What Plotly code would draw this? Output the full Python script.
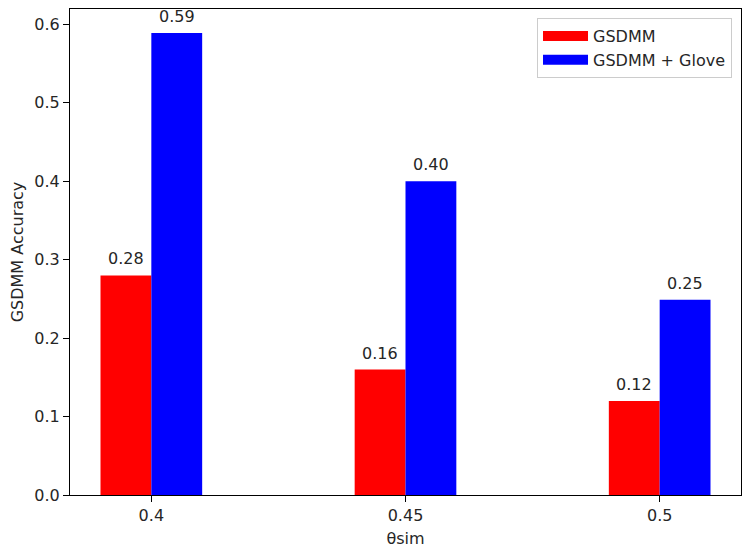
import plotly.graph_objects as go

categories = ["0.4", "0.45", "0.5"]
gsdmm = [0.28, 0.16, 0.12]
gsdmm_glove = [0.589, 0.40, 0.249]
series_names = ["GSDMM", "GSDMM + Glove"]
colors = ["red", "blue"]

x = list(range(len(categories)))
font = dict(family="DejaVu Sans", size=16, color="#262626")

fig = go.Figure()
for vals, name, col, off in [(gsdmm, series_names[0], colors[0], -0.2),
                             (gsdmm_glove, series_names[1], colors[1], 0.0)]:
    fig.add_trace(go.Bar(x=x, y=vals, name=name, marker=dict(color=col, line=dict(width=0)),
                         width=0.2, offset=off, showlegend=False, hoverinfo="skip"))
    for xi, v in zip(x, vals):
        fig.add_annotation(x=xi + off + 0.1, y=v, text=f"{v:.2f}", showarrow=False,
                           yanchor="bottom", yshift=5, font=font)
    # legend entry drawn as a wide patch, like matplotlib's legend handle
    fig.add_trace(go.Scatter(x=[None], y=[None], mode="lines", name=name,
                             line=dict(color=col, width=10)))

axis_common = dict(showline=True, linecolor="black", linewidth=1, mirror=True, showgrid=False,
                   zeroline=False, ticks="outside", ticklen=6, tickcolor="black", tickfont=font,
                   automargin=False)
fig.update_layout(
    width=749, height=556,
    margin=dict(l=70, r=8, t=9, b=61),
    paper_bgcolor="white", plot_bgcolor="white",
    font=font,
    barmode="group",
    xaxis=dict(range=[-0.32, 2.32], tickvals=x, ticktext=categories,
               title=dict(text="θsim", font=font, standoff=8), **axis_common),
    yaxis=dict(range=[0, 0.6197], tickvals=[0, 0.1, 0.2, 0.3, 0.4, 0.5, 0.6], tickformat=".1f",
               title=dict(text="GSDMM Accuracy", font=font, standoff=6), **axis_common),
    legend=dict(x=0.9866, y=0.9815, xanchor="right", yanchor="top", bgcolor="rgba(255,255,255,0.8)",
                bordercolor="#cccccc", borderwidth=1, font=font, itemwidth=45),
    showlegend=True,
)
fig.write_html("out.html", config={"displayModeBar": False})

with open("out.html", "r", encoding="utf-8") as f:
    html = f.read()
html = html.replace("<body>", '<body style="margin:0;padding:0;">', 1)
with open("out.html", "w", encoding="utf-8") as f:
    f.write(html)
